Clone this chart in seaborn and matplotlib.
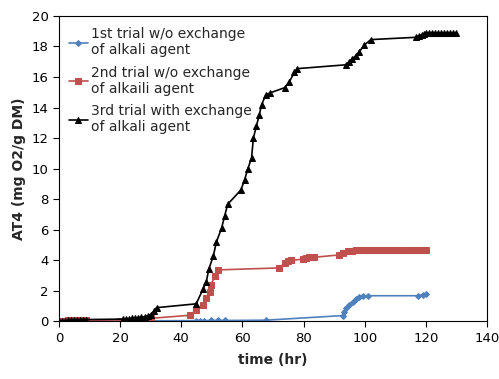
import matplotlib
matplotlib.use("Agg")
import matplotlib.pyplot as plt
import seaborn as sns
import pandas as pd

# 1st trial w/o exchange of alkali agent
t1 = [0, 2, 4, 6, 8, 9, 26, 27, 28, 29, 30, 45, 46, 47.6, 49.8, 51.9, 54.2, 67.8,
      92.8, 93.3, 93.9, 95, 96.1, 97.2, 98.2, 99.3, 101, 117.3, 119, 120]
v1 = [0, 0, 0.02, 0.02, 0.03, 0.03, 0.03, 0.03, 0.04, 0.04, 0.04, 0.05, 0.05, 0.05, 0.06, 0.06, 0.06, 0.08,
      0.38, 0.6, 0.86, 1.08, 1.3, 1.45, 1.57, 1.64, 1.68, 1.68, 1.74, 1.8]

# 2nd trial w/o exchange of alkaili agent
t2 = [0, 1, 2, 3, 4, 5, 6, 7, 8, 9, 20, 25, 28, 30, 42.8, 44.9, 47.1, 48.2, 49.3, 49.8, 50.9, 51.9,
      71.9, 73.8, 74.8, 75.9, 79.7, 80.8, 81.9, 82.7, 83.5, 91.7, 92.8, 94.4, 96, 97.1,
      98, 99, 100, 101, 102, 103, 104, 105, 106, 107, 108, 109, 110, 111, 112, 113, 114, 115,
      116, 117, 118, 119, 120]
v2 = [0.02, 0.04, 0.05, 0.06, 0.07, 0.08, 0.08, 0.09, 0.1, 0.1, 0.0, 0.05, 0.15, 0.2, 0.4, 0.75, 1.08, 1.5, 1.95, 2.4, 2.95, 3.37,
      3.5, 3.8, 3.97, 4.0, 4.07, 4.18, 4.2, 4.2, 4.2, 4.35, 4.5, 4.58, 4.6, 4.65,
      4.65, 4.65, 4.65, 4.65, 4.65, 4.65, 4.65, 4.65, 4.65, 4.65, 4.65, 4.65, 4.65, 4.65, 4.65, 4.65, 4.65, 4.65,
      4.65, 4.65, 4.65, 4.65, 4.65]

# 3rd trial with exchange of alkali agent
t3 = [0, 1, 2, 3, 4, 5, 6, 7, 8, 9, 21, 22, 23, 24, 25, 26, 27, 28, 29, 30, 31, 32,
      44.9, 47.1, 48.2, 49, 50.5, 51.5, 53.2, 54.2, 55.2, 59.5,
      60.7, 61.8, 63, 63.6, 64.6, 65.5, 66.3, 67.6, 68.9,
      73.8, 75.4, 77, 78, 93.9, 95, 96, 97.1, 98.2, 99.9, 102,
      116.7, 117.8, 118.6, 119.4, 120, 121, 122, 123, 124, 125, 126, 127, 128, 129, 130]
v3 = [0, 0.03, 0.05, 0.07, 0.08, 0.09, 0.1, 0.1, 0.12, 0.12, 0.15, 0.17, 0.18, 0.2, 0.22, 0.25, 0.28, 0.3, 0.35, 0.45, 0.65, 0.9,
      1.15, 2.1, 2.58, 3.4, 4.28, 5.2, 6.1, 6.9, 7.67, 8.6,
      9.25, 10.0, 10.7, 12.0, 12.8, 13.5, 14.2, 14.8, 14.95,
      15.3, 15.7, 16.3, 16.55, 16.8, 17.0, 17.2, 17.4, 17.65, 18.1, 18.45,
      18.6, 18.7, 18.75, 18.8, 18.85, 18.85, 18.85, 18.85, 18.85, 18.85, 18.85, 18.85, 18.85, 18.85, 18.85]

labels = ["1st trial w/o exchange\nof alkali agent",
          "2nd trial w/o exchange\nof alkaili agent",
          "3rd trial with exchange\nof alkali agent"]
colors = ["#4F81BD", "#C0504D", "#000000"]
markers = ["D", "s", "^"]
sizes = [3, 3.8, 4.5]

sns.set_style("white")
plt.rcParams["font.family"] = ["DejaVu Sans"]

fig = plt.figure(figsize=(4.99, 3.79), dpi=100)
ax = fig.add_axes([0.118, 0.152, 0.858, 0.806])

for t, v, lab, c, m, s in zip([t1, t2, t3], [v1, v2, v3], labels, colors, markers, sizes):
    df = pd.DataFrame({"time": t, "val": v})
    sns.lineplot(data=df, x="time", y="val", ax=ax, color=c, marker=m, markersize=s,
                 markeredgecolor=c, linewidth=1.2, label=lab)

ax.set_xlim(0, 140)
ax.set_ylim(0, 20)
ax.set_xticks(range(0, 141, 20))
ax.set_yticks(range(0, 21, 2))
ax.tick_params(axis="both", direction="out", length=4, width=0.8, labelsize=9.5,
               bottom=True, left=True, colors="black")
for sp in ax.spines.values():
    sp.set_color("black")
    sp.set_linewidth(0.8)

ax.set_xlabel("time (hr)", fontsize=10, fontweight="bold", labelpad=6)
ax.set_ylabel("AT4 (mg O2/g DM)", fontsize=10, fontweight="bold", labelpad=4)

ax.legend(loc="upper left", bbox_to_anchor=(0.0, 0.995), frameon=False, fontsize=10,
          handlelength=1.4, handletextpad=0.2, labelspacing=0.6, borderaxespad=0.3)

fig.savefig("out.png", dpi=100)
